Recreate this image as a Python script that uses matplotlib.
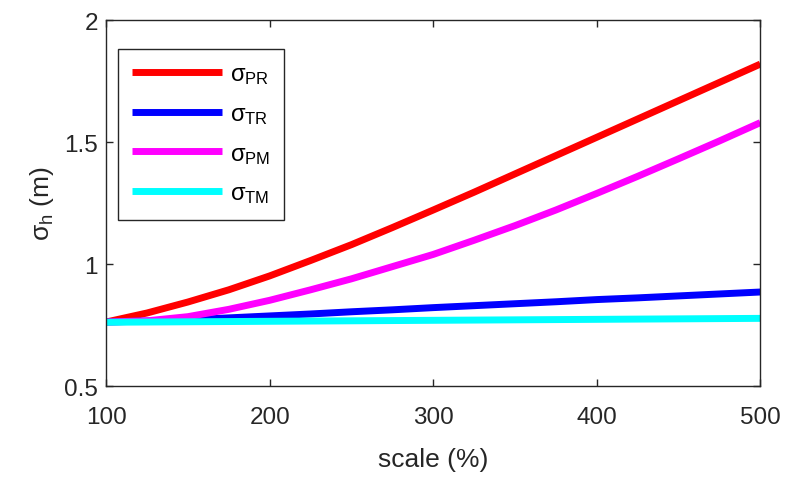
import matplotlib
matplotlib.use("Agg")
import matplotlib.pyplot as plt
import numpy as np

# --- data ---
scale = [100, 125, 150, 175, 200, 225, 250, 275, 300, 325, 350, 375, 400, 425, 450, 475, 500]
sigma_pr = [0.763, 0.80, 0.845, 0.895, 0.952, 1.015, 1.08, 1.15, 1.222, 1.295, 1.37, 1.445, 1.52, 1.595, 1.67, 1.745, 1.82]
sigma_tr = [0.763, 0.767, 0.772, 0.780, 0.788, 0.796, 0.805, 0.813, 0.822, 0.830, 0.838, 0.846, 0.855, 0.862, 0.870, 0.878, 0.886]
sigma_pm = [0.763, 0.768, 0.785, 0.815, 0.852, 0.895, 0.94, 0.99, 1.04, 1.098, 1.158, 1.222, 1.29, 1.36, 1.432, 1.505, 1.58]
sigma_tm = [0.762, 0.763, 0.764, 0.765, 0.766, 0.767, 0.768, 0.769, 0.770, 0.771, 0.772, 0.773, 0.774, 0.775, 0.776, 0.777, 0.778]

labels = [r'$\sigma_{\mathrm{PR}}$', r'$\sigma_{\mathrm{TR}}$', r'$\sigma_{\mathrm{PM}}$', r'$\sigma_{\mathrm{TM}}$']
colors = ['#ff0000', '#0000ff', '#ff00ff', '#00ffff']

plt.rcParams['font.family'] = ['Liberation Sans', 'DejaVu Sans']
plt.rcParams['mathtext.fontset'] = 'custom'
plt.rcParams['mathtext.rm'] = 'Liberation Sans'
plt.rcParams['mathtext.it'] = 'Liberation Sans'
plt.rcParams['mathtext.sf'] = 'Liberation Sans'

fig = plt.figure(figsize=(7.92, 4.81), dpi=100)
ax = fig.add_axes([0.134, 0.195, 0.826, 0.761])

for ys, c, lab in zip([sigma_pr, sigma_tr, sigma_pm, sigma_tm], colors, labels):
    ax.plot(scale, ys, color=c, linewidth=5, label=lab, solid_capstyle='butt')

ax.set_xlim(100, 500)
ax.set_ylim(0.5, 2)
ax.set_xticks([100, 200, 300, 400, 500])
ax.set_yticks([0.5, 1, 1.5, 2])
ax.set_yticklabels(['0.5', '1', '1.5', '2'])

edge = '#262626'
for s in ax.spines.values():
    s.set_color(edge)
    s.set_linewidth(1.0)
ax.tick_params(direction='in', top=True, right=True, length=5, width=1.0,
               colors=edge, labelsize=17.5, labelcolor='#262626')
ax.tick_params(axis='x', pad=14)
ax.tick_params(axis='y', pad=6)

ax.set_xlabel('scale (%)', fontsize=19, color='#262626', labelpad=14)
ax.set_ylabel(r'$\sigma_{\mathrm{h}}$ (m)', fontsize=19, color='#262626', labelpad=6)

leg = ax.legend(loc='upper left', bbox_to_anchor=(0.018, 0.922), fontsize=17,
                frameon=True, fancybox=False, handlelength=3.8, handletextpad=0.35,
                labelspacing=0.72, borderpad=0.6, borderaxespad=0.0)
leg.get_frame().set_edgecolor(edge)
leg.get_frame().set_linewidth(1.0)
leg.get_frame().set_alpha(1.0)

fig.savefig('out.png', dpi=100)
